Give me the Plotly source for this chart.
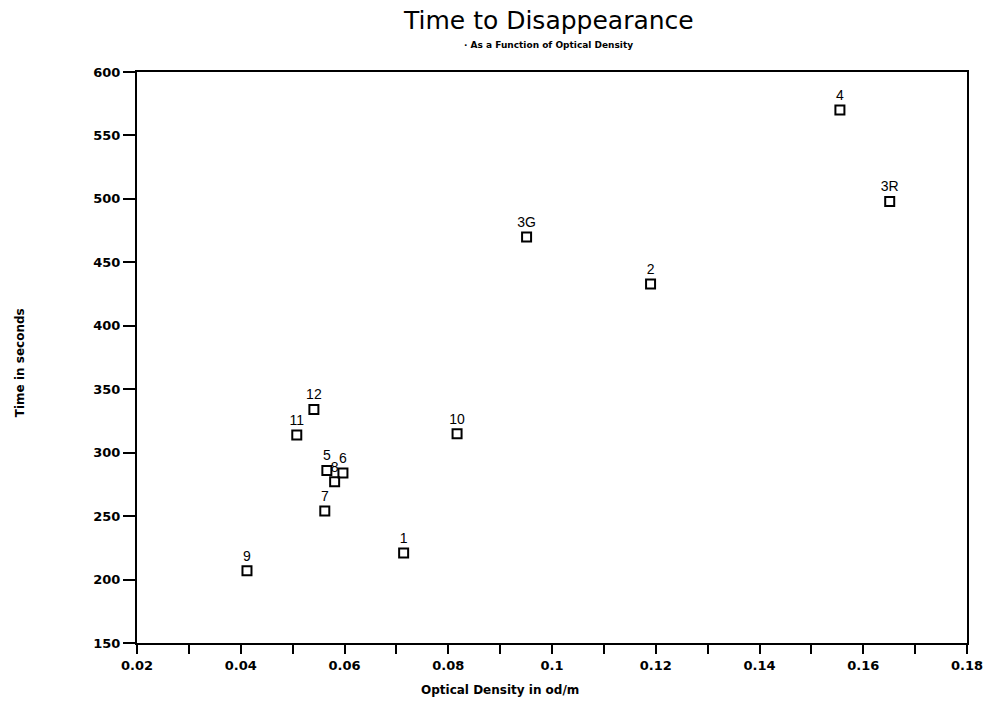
import plotly.graph_objects as go

labels = ["9", "11", "12", "5", "8", "6", "7", "1", "10", "3G", "2", "4", "3R"]
optical_density = [0.0412, 0.0508, 0.0541, 0.0566, 0.0581, 0.0597, 0.0562, 0.0714, 0.0817, 0.0951, 0.1190, 0.1555, 0.1651]
time_seconds = [207, 314, 334, 286, 277, 284, 254, 221, 315, 470, 433, 570, 498]

x_ticks = [0.02, 0.04, 0.06, 0.08, 0.1, 0.12, 0.14, 0.16, 0.18]
y_ticks = [150, 200, 250, 300, 350, 400, 450, 500, 550, 600]

fig = go.Figure()
fig.add_trace(go.Scatter(
    x=optical_density, y=time_seconds, mode="markers+text",
    text=labels, textposition="top center",
    textfont=dict(family="Liberation Sans", size=14, color="black"),
    marker=dict(symbol="square-open", size=9, color="black", line=dict(width=2, color="black")),
    showlegend=False, cliponaxis=False,
))

fig.update_layout(
    width=995, height=726,
    paper_bgcolor="white", plot_bgcolor="white",
    margin=dict(l=137, r=28, t=72, b=83),
    font=dict(family="Liberation Sans", color="black"),
)
fig.add_annotation(
    text="Time to Disappearance", xref="paper", yref="paper", x=0.496, y=1, yshift=52,
    xanchor="center", yanchor="middle", showarrow=False,
    font=dict(family="DejaVu Sans", size=25, color="black"),
)
fig.add_annotation(
    text="<b>· As a Function of Optical Density</b>", xref="paper", yref="paper", x=0.496, y=1, yshift=27,
    xanchor="center", yanchor="middle", showarrow=False,
    font=dict(family="DejaVu Sans", size=9, color="black"),
)
fig.add_annotation(
    text="<b>Optical Density in od/m</b>", xref="paper", yref="paper", x=0.437, y=0, yshift=-47,
    xanchor="center", yanchor="middle", showarrow=False,
    font=dict(family="DejaVu Sans", size=12, color="black"),
)
fig.add_annotation(
    text="<b>Time in seconds</b>", xref="paper", yref="paper", x=0, xshift=-117, y=0.49,
    xanchor="center", yanchor="middle", showarrow=False, textangle=-90,
    font=dict(family="DejaVu Sans", size=12, color="black"),
)
fig.update_xaxes(
    range=[0.02, 0.18], tickvals=x_ticks, ticktext=[f"{v:g}" for v in x_ticks],
    ticks="outside", ticklen=9, tickwidth=1.5, tickcolor="black",
    minor=dict(dtick=0.01, ticks="outside", ticklen=9, tickwidth=1.5, tickcolor="black"),
    showline=True, linewidth=2, linecolor="black", mirror=True,
    showgrid=False, zeroline=False,
    tickfont=dict(family="DejaVu Sans", size=13, color="black", weight="bold"),
)
fig.update_yaxes(
    range=[150, 600], tickvals=y_ticks,
    ticks="outside", ticklen=12, tickwidth=1.5, tickcolor="black",
    showline=True, linewidth=2, linecolor="black", mirror=True,
    showgrid=False, zeroline=False,
    tickfont=dict(family="DejaVu Sans", size=13, color="black", weight="bold"),
)

# remove the browser's default 8px body margin so the figure fills the window
fig.write_html("out.html", config={"displayModeBar": False},
               post_script="document.body.style.margin='0';")
